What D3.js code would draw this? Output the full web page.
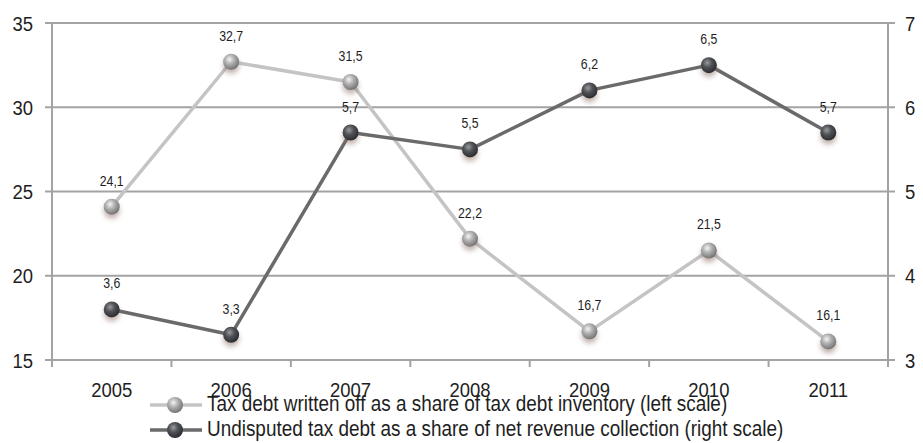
<!DOCTYPE html>
<html>
<head>
<meta charset="utf-8">
<script src="https://cdn.jsdelivr.net/npm/d3@7"></script>
<style>
  html, body { margin: 0; padding: 0; background: #fff; }
  svg { display: block; font-family: "Liberation Sans", Arial, sans-serif; }
</style>
</head>
<body>
<svg id="chart" width="923" height="443"></svg>
<script>
const years = ["2005", "2006", "2007", "2008", "2009", "2010", "2011"];
const writtenOff = [24.1, 32.7, 31.5, 22.2, 16.7, 21.5, 16.1];
const undisputed = [3.6, 3.3, 5.7, 5.5, 6.2, 6.5, 5.7];
const leftTicks = [15, 20, 25, 30, 35];
const rightTicks = [3, 4, 5, 6, 7];
const legendLabels = [
  "Tax debt written off as a share of tax debt inventory (left scale)",
  "Undisputed tax debt as a share of net revenue collection (right scale)"
];

const svg = d3.select("#chart");
const m = { left: 52, right: 888, top: 23, bottom: 360 };
const gridColor = "#a3a3a3";
const textColor = "#1e1e1e";
const narrow = 0.88; // horizontal squeeze for a condensed look

const x = d3.scaleBand().domain(years).range([m.left, m.right]);
const yL = d3.scaleLinear().domain([15, 35]).range([m.bottom, m.top]);
const yR = d3.scaleLinear().domain([3, 7]).range([m.bottom, m.top]);

// condensed text placed at (px, py)
function ctext(sel, px, py) {
  return sel.attr("x", 0).attr("y", 0)
    .attr("transform", (d, i) => `translate(${px(d, i)},${py(d, i)}) scale(${narrow},1)`);
}

// sphere gradients and drop shadow for markers
const defs = svg.append("defs");
function sphere(id, light, mid, dark) {
  const g = defs.append("radialGradient").attr("id", id)
    .attr("cx", "40%").attr("cy", "35%").attr("r", "65%");
  g.append("stop").attr("offset", "0%").attr("stop-color", light);
  g.append("stop").attr("offset", "45%").attr("stop-color", mid);
  g.append("stop").attr("offset", "100%").attr("stop-color", dark);
}
sphere("ballLight", "#f4f4f4", "#b0b0b0", "#747474");
sphere("ballDark", "#9a9a9a", "#4f5258", "#2a2c30");
const f = defs.append("filter").attr("id", "shadow")
  .attr("x", "-60%").attr("y", "-60%").attr("width", "220%").attr("height", "240%");
f.append("feGaussianBlur").attr("in", "SourceAlpha").attr("stdDeviation", 2.5).attr("result", "b");
f.append("feOffset").attr("in", "b").attr("dy", 4).attr("result", "o");
f.append("feFlood").attr("flood-color", "#8a6a60").attr("flood-opacity", 0.5);
f.append("feComposite").attr("in2", "o").attr("operator", "in").attr("result", "s");
const fm = f.append("feMerge");
fm.append("feMergeNode").attr("in", "s");
fm.append("feMergeNode").attr("in", "SourceGraphic");

// horizontal gridlines
svg.append("g").selectAll("line").data(leftTicks).join("line")
  .attr("x1", m.left - 7).attr("x2", m.right + 7)
  .attr("y1", d => yL(d)).attr("y2", d => yL(d))
  .attr("stroke", gridColor).attr("stroke-width", 2);

// left and right axis lines
[m.left, m.right].forEach(px => {
  svg.append("line").attr("x1", px).attr("x2", px)
    .attr("y1", m.top).attr("y2", m.bottom + 7)
    .attr("stroke", gridColor).attr("stroke-width", 2);
});

// bottom category ticks
const xTicks = years.map(d => x(d)).concat([m.right]);
svg.append("g").selectAll("line").data(xTicks).join("line")
  .attr("x1", d => d).attr("x2", d => d)
  .attr("y1", m.bottom).attr("y2", m.bottom + 7)
  .attr("stroke", gridColor).attr("stroke-width", 2);

// axis labels
ctext(svg.append("g").selectAll("text").data(leftTicks).join("text"),
    () => 33, d => yL(d))
  .attr("dy", "0.36em").attr("text-anchor", "end")
  .attr("font-size", 21).attr("fill", textColor).text(d => d);
ctext(svg.append("g").selectAll("text").data(rightTicks).join("text"),
    () => 905, d => yR(d))
  .attr("dy", "0.36em").attr("text-anchor", "start")
  .attr("font-size", 21).attr("fill", textColor).text(d => d);
ctext(svg.append("g").selectAll("text").data(years).join("text"),
    d => x(d) + x.bandwidth() / 2, () => 389)
  .attr("dy", "0.36em").attr("text-anchor", "middle")
  .attr("font-size", 21).attr("fill", textColor).text(d => d);

const cx = i => x(years[i]) + x.bandwidth() / 2;

function series(values, yScale, stroke, fill) {
  const line = d3.line().x((d, i) => cx(i)).y(d => yScale(d));
  svg.append("path").datum(values).attr("d", line)
    .attr("fill", "none").attr("stroke", stroke).attr("stroke-width", 3.5)
    .attr("stroke-linejoin", "round");
  svg.append("g").selectAll("circle").data(values).join("circle")
    .attr("cx", (d, i) => cx(i)).attr("cy", d => yScale(d)).attr("r", 8)
    .attr("fill", `url(#${fill})`).attr("filter", "url(#shadow)");
  ctext(svg.append("g").selectAll("text").data(values).join("text"),
      (d, i) => cx(i), d => yScale(d) - 21)
    .attr("text-anchor", "middle").attr("font-size", 14).attr("fill", textColor)
    .text(d => d3.format(".1f")(d).replace(".", ","));
}
series(writtenOff, yL, "#c4c4c4", "ballLight");
series(undisputed, yR, "#6a6a6a", "ballDark");

// legend
const legend = svg.append("g");
legendLabels.forEach((label, i) => {
  const ly = 405 + i * 25;
  const col = i === 0 ? "#c4c4c4" : "#6a6a6a";
  legend.append("line").attr("x1", 150).attr("x2", 202).attr("y1", ly).attr("y2", ly)
    .attr("stroke", col).attr("stroke-width", 3.5);
  legend.append("circle").attr("cx", 175).attr("cy", ly).attr("r", 8)
    .attr("fill", i === 0 ? "url(#ballLight)" : "url(#ballDark)");
  legend.append("text").attr("x", 0).attr("y", 0)
    .attr("transform", `translate(207,${ly - 2}) scale(${narrow},1)`)
    .attr("dy", "0.36em")
    .attr("font-size", 21.5).attr("fill", textColor).text(label);
});
</script>
</body>
</html>
